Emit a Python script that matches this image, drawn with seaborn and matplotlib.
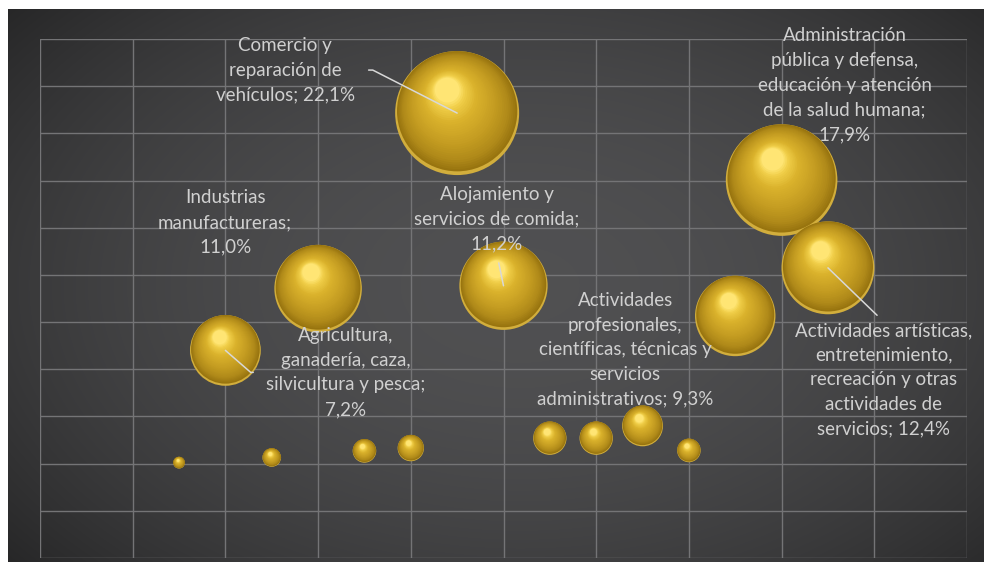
import numpy as np
import pandas as pd
import matplotlib
matplotlib.use("Agg")
import matplotlib.pyplot as plt
import seaborn as sns
from matplotlib.colors import LinearSegmentedColormap

# sectors along the x axis, vertical position and share of employment (%)
sector_idx = [3, 4, 5, 6, 7, 8, 9, 10, 11, 12, 13, 14, 15, 16, 17]
y_vals = [2.02, 4.40, 2.13, 5.71, 2.27, 2.33, 9.43, 5.77, 2.54, 2.54, 2.80, 2.28, 5.13, 8.01, 6.15]
share = [0.2, 7.2, 0.5, 11.0, 0.8, 1.0, 22.1, 11.2, 1.6, 1.6, 2.4, 0.8, 9.3, 17.9, 12.4]
labels = [
    "",
    "Agricultura,\nganadería, caza,\nsilvicultura y pesca;\n7,2%",
    "",
    "Industrias\nmanufactureras;\n11,0%",
    "",
    "",
    "Comercio y\nreparación de\nvehículos; 22,1%",
    "Alojamiento y\nservicios de comida;\n11,2%",
    "",
    "",
    "",
    "",
    "Actividades\nprofesionales,\ncientíficas, técnicas y\nservicios\nadministrativos; 9,3%",
    "Administración\npública y defensa,\neducación y atención\nde la salud humana;\n17,9%",
    "Actividades artísticas,\nentretenimiento,\nrecreación y otras\nactividades de\nservicios; 12,4%",
]

df = pd.DataFrame({"x": sector_idx, "y": y_vals, "share": share, "label": labels})

# label placement (pixel offsets from the bubble) and leader line style
label_pos = {
    4: dict(off=(120, -22), line=dict(relpos=(0, 0.5), shrinkA=7, connectionstyle="angle,angleA=0,angleB=139,rad=0")),
    6: dict(off=(-93, 66), line=None),
    9: dict(off=(-172, 43), line=dict(relpos=(1, 0.5), shrinkA=8, connectionstyle="angle,angleA=0,angleB=-27,rad=0")),
    10: dict(off=(-7, 67), line=dict(relpos=(0.5, 0), shrinkA=6, connectionstyle="arc3")),
    15: dict(off=(-110, -34), line=None),
    16: dict(off=(63, 95), line=None),
    17: dict(off=(56, -112), line=dict(relpos=(0.5, 1), shrinkA=4, connectionstyle="arc3")),
}

W, H, DPI = 984, 562, 100
fig = plt.figure(figsize=(W / DPI, H / DPI), dpi=DPI, facecolor="white")

# dark vignette background
bg = fig.add_axes([8 / W, 0, (W - 8) / W, (H - 9) / H], zorder=0)
yy, xx = np.mgrid[-1:1:300j, -1:1:500j]
d = np.sqrt(((xx - 0.05) / 1.05) ** 2 + (yy / 1.2) ** 2)
grad = 0.315 - 0.095 * np.clip(d, 0, 1.3) ** 2
bg.imshow(np.dstack([grad, grad, grad * 1.02]).clip(0, 1), aspect="auto", interpolation="bilinear")
bg.axis("off")

ax = fig.add_axes([40 / W, 4 / H, 927 / W, 519 / H], zorder=1)
ax.set_facecolor("none")
ax.set_xlim(0, 20)
ax.set_ylim(0, 11)
ax.set_xticks(range(0, 21, 2))
ax.set_yticks(range(0, 12))
ax.grid(True, color="#747476", lw=1)
ax.set_axisbelow(True)
ax.tick_params(length=0, labelbottom=False, labelleft=False)
for sp in ax.spines.values():
    sp.set_visible(False)

# bubble area proportional to share
max_r = 62
S = (2 * max_r * 72 / DPI) ** 2
vmin, vmax = df["share"].min(), df["share"].max()
r_px = max_r * np.sqrt(df["share"] / vmax)
base = ax.transData.transform(df[["x", "y"]].to_numpy(float))

gold = LinearSegmentedColormap.from_list(
    "gold",
    [(0, "#98740f"), (0.15, "#b08a1a"), (0.4, "#c69e22"), (0.7, "#dab22c"),
     (0.9, "#f0ce48"), (1.0, "#ffe574")])


def sphere_layer(rf, sx, sy, color, z):
    pts = base + np.column_stack([sx * r_px, sy * r_px])
    dd = ax.transData.inverted().transform(pts)
    tmp = pd.DataFrame({"x": dd[:, 0], "y": dd[:, 1], "share": df["share"]})
    sns.scatterplot(data=tmp, x="x", y="y", size="share",
                    sizes=(vmin / vmax * S * rf ** 2, S * rf ** 2), size_norm=(vmin, vmax),
                    color=color, linewidth=0, legend=False, ax=ax, zorder=z)


# light rim at the bottom, then shading toward the highlight
sphere_layer(1.0, 0, 0, "#d2ae3c", 3)
N = 32
for k in range(N):
    t = k / (N - 1)
    rf = 0.97 * (1 - t) + 0.2 * t
    sx = -0.16 * t
    sy = 0.03 * (1 - t) + 0.37 * t
    sphere_layer(rf, sx, sy, gold(t), 4 + k * 0.01)

ax.set_xlim(0, 20)
ax.set_ylim(0, 11)
ax.set_xlabel("")
ax.set_ylabel("")

txt_color = "#d0d0d0"
for _, row in df.iterrows():
    if not row["label"]:
        continue
    opt = label_pos[row["x"]]
    arrow = None
    if opt["line"] is not None:
        arrow = dict(arrowstyle="-", color="#d8d8d8", lw=1.1, shrinkB=0, **opt["line"])
    ax.annotate(row["label"], xy=(row["x"], row["y"]), xytext=opt["off"],
                textcoords="offset pixels", ha="center", va="center",
                color=txt_color, fontsize=13.5, family=["Lato", "DejaVu Sans"],
                linespacing=1.55, arrowprops=arrow, zorder=10, annotation_clip=False)

fig.savefig("out.png", dpi=DPI, facecolor="white")
